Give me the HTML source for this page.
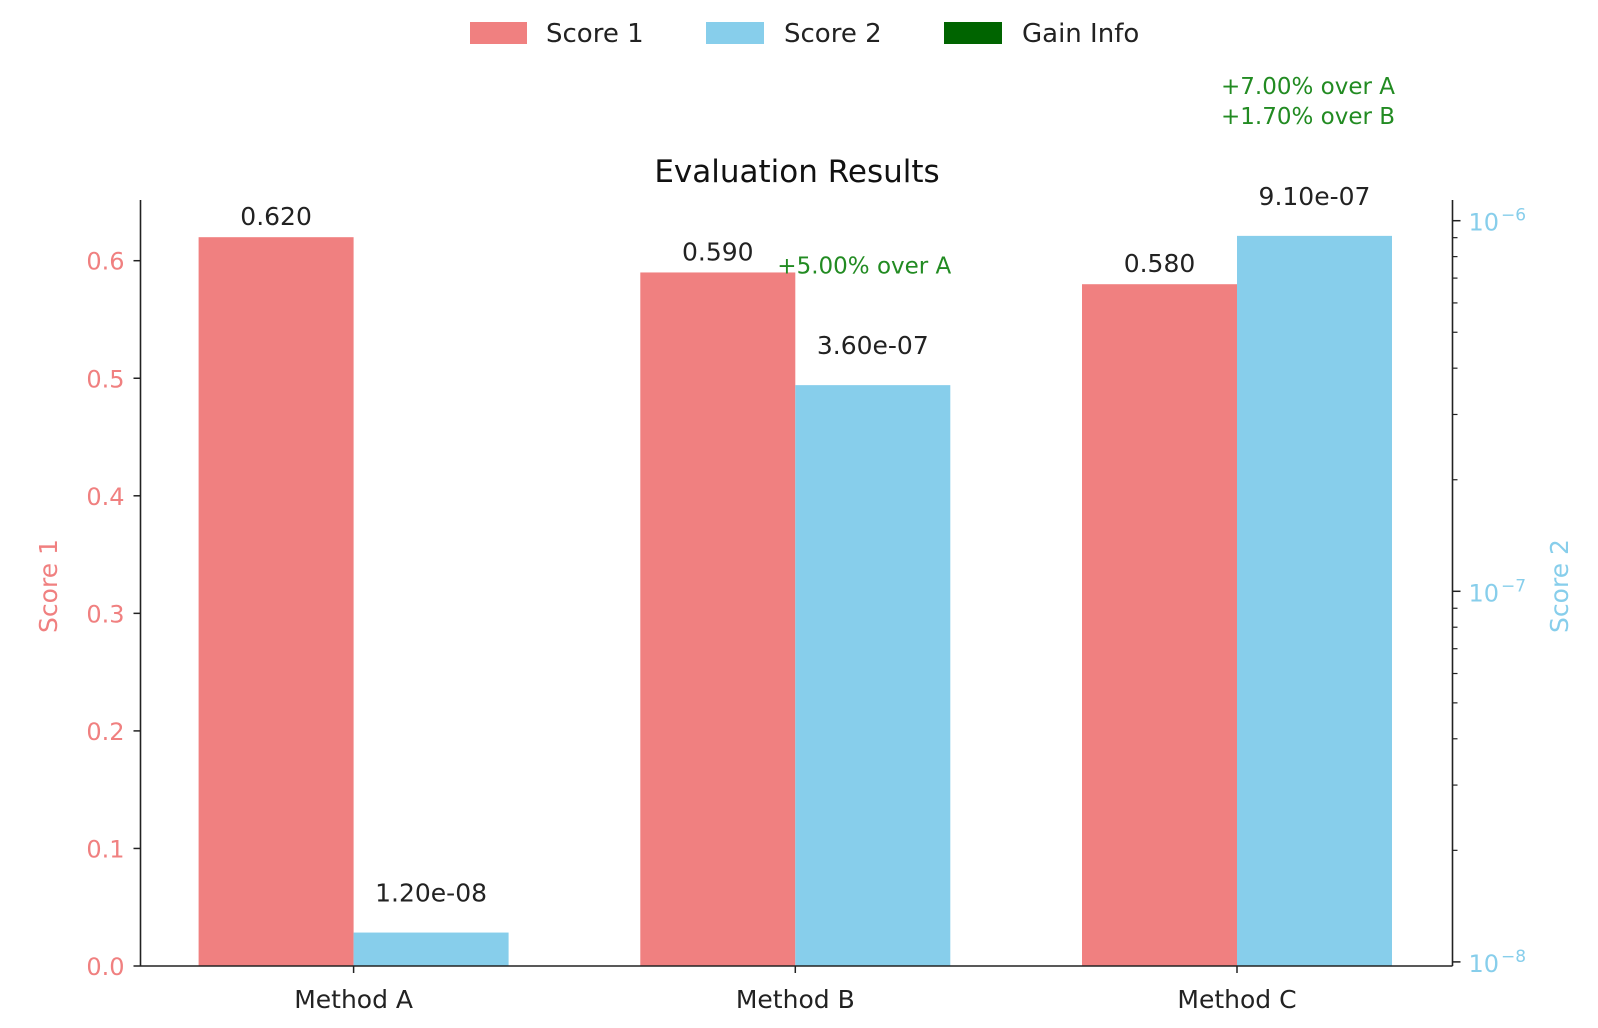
<!DOCTYPE html>
<html><head><meta charset="utf-8"><style>
body{margin:0;background:#fff}
svg{display:block;font-family:"DejaVu Sans","Liberation Sans",sans-serif}
</style></head><body>
<svg id="chart" width="1598" height="1028" viewBox="0 0 1598 1028" xmlns="http://www.w3.org/2000/svg">
<g>
<rect x="470" y="22" width="57" height="22" fill="#F08080"/>
<text x="546" y="42" font-size="26" fill="#222">Score 1</text>
<rect x="706" y="22" width="58" height="22" fill="#87CEEB"/>
<text x="784" y="42" font-size="26" fill="#222">Score 2</text>
<rect x="944" y="22" width="58" height="22" fill="#006400"/>
<text x="1022" y="42" font-size="26" fill="#222">Gain Info</text>
</g>
<text x="797" y="182" font-size="31" text-anchor="middle" fill="#111">Evaluation Results</text>
<text transform="translate(57,586) rotate(-90)" font-size="25" text-anchor="middle" fill="#F08080">Score 1</text>
<text transform="translate(1568,586) rotate(-90)" font-size="25" text-anchor="middle" fill="#87CEEB">Score 2</text>
<g id="plot"></g>
</svg>
<script>
const categories = ["Method A", "Method B", "Method C"];
const score1 = [0.62, 0.59, 0.58];
const score2 = [1.2e-8, 3.6e-7, 9.1e-7];
const score1Labels = ["0.620", "0.590", "0.580"];
const score2Labels = ["1.20e-08", "3.60e-07", "9.10e-07"];
const leftTicks = [0, 0.1, 0.2, 0.3, 0.4, 0.5, 0.6];
const rightTicks = [-8, -7, -6];
const gainNotes = [[], ["+5.00% over A"], ["+7.00% over A", "+1.70% over B"]];

const NS = "http://www.w3.org/2000/svg";
const plot = document.getElementById("plot");
const L = 140.5, R = 1452.5, T = 200, B = 966;
const x0 = 353.6, step = 441.7, bw = 155;
function xC(i){ return x0 + i*step; }
function yL(v){ return B - v*1175.5; }
function yR(v){ return 591.3 - (Math.log10(v) + 7)*370.6; }
function mk(tag, attrs, text){
  const e = document.createElementNS(NS, tag);
  for (const k in attrs) e.setAttribute(k, attrs[k]);
  if (text !== undefined) e.textContent = text;
  plot.appendChild(e); return e;
}
categories.forEach((c, i) => {
  let e = mk("rect", {x: xC(i)-bw, y: yL(score1[i]), width: bw, height: B - yL(score1[i]), fill: "#F08080"});
  
  
  const yb = yR(score2[i]);
  e = mk("rect", {x: xC(i), y: yb, width: bw, height: B - yb, fill: "#87CEEB"});
  
  
  e = mk("text", {x: xC(i)-bw/2, y: yL(score1[i]) - 12, "font-size": 25, "text-anchor": "middle", fill: "#222"}, score1Labels[i]);
  
  
  e = mk("text", {x: xC(i)+bw/2, y: yb - 31, "font-size": 25, "text-anchor": "middle", fill: "#222"}, score2Labels[i]);
  
  
  e = mk("line", {x1: xC(i), x2: xC(i), y1: B, y2: B+7, stroke: "#222", "stroke-width": 1.5});
  
  
  e = mk("text", {x: xC(i), y: 1008, "font-size": 25, "text-anchor": "middle", fill: "#222"}, c);
  
  
  const notes = gainNotes[i];
  notes.forEach((n, j) => {
    let tx, ty;
    if (notes.length === 1){ tx = xC(i) - 18; ty = yL(score1[i]) + 1; }
    else { tx = xC(i) - 16; ty = 94 + j*30; }
    const g = mk("text", {x: tx, y: ty, "font-size": 23, fill: "#228B22"}, n);
    
    
  });
});
leftTicks.forEach((v, i) => {
  let e = mk("line", {x1: L-7, x2: L, y1: yL(v), y2: yL(v), stroke: "#222", "stroke-width": 1.5});
  
  
  e = mk("text", {x: L-16, y: yL(v)+9, "font-size": 24, "text-anchor": "end", fill: "#F08080"}, v.toFixed(1));
  
  
});
rightTicks.forEach((p, i) => {
  const y = yR(Math.pow(10, p));
  let e = mk("line", {x1: R, x2: R+8, y1: y, y2: y, stroke: "#222", "stroke-width": 1.5});
  
  
  e = mk("text", {x: R+16, y: y+10, "font-size": 24, fill: "#87CEEB"}, "10");
  
  
  const s = mk("tspan", {dx: 2, dy: -10, "font-size": 17}, "\u2212" + Math.abs(p));
  e.appendChild(s);
  if (p < -6) for (let m = 2; m <= 9; m++){
    const ym = yR(m*Math.pow(10, p));
    if (ym < T) continue;
    const t = mk("line", {x1: R, x2: R+5, y1: ym, y2: ym, stroke: "#222", "stroke-width": 1.2});
    
    
  }
});
let ax = mk("line", {x1: L, x2: L, y1: T, y2: B, stroke: "#222", "stroke-width": 1.6});


ax = mk("line", {x1: R, x2: R, y1: T, y2: B, stroke: "#222", "stroke-width": 1.6});


ax = mk("line", {x1: L, x2: R, y1: B, y2: B, stroke: "#222", "stroke-width": 1.6});


</script>
</body></html>
